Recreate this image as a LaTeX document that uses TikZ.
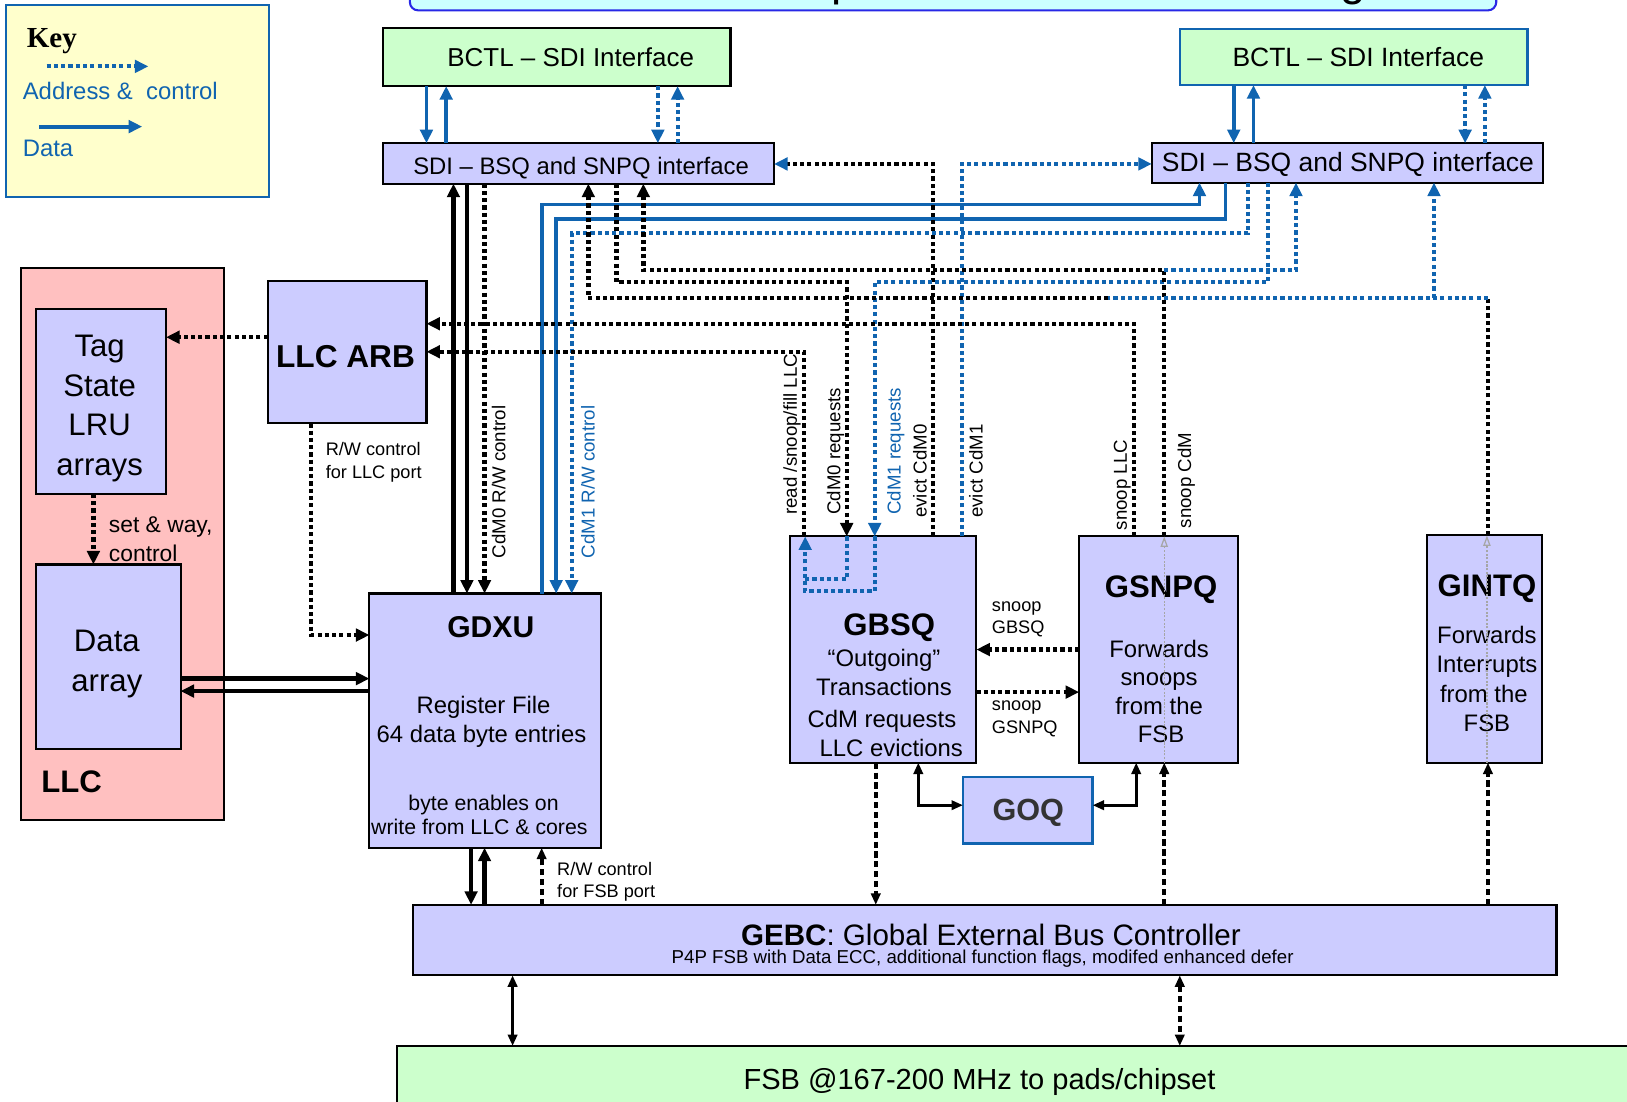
\documentclass[tikz,border=0pt]{standalone}
\usepackage{fontspec}
\setmainfont{Liberation Sans}
\newfontfamily\keyfont{Liberation Serif}
\usetikzlibrary{arrows.meta}
\definecolor{myblue}{RGB}{16,100,176}
\definecolor{lav}{RGB}{204,204,255}
\definecolor{mint}{RGB}{204,255,204}
\definecolor{pinkbg}{RGB}{255,192,192}
\definecolor{keyyel}{RGB}{255,255,204}
\definecolor{titlebg}{RGB}{204,255,255}
\definecolor{titlebd}{RGB}{40,40,230}
\newcommand\fsz[2]{\fontsize{#1}{#2}\selectfont}
\begin{document}
\begin{tikzpicture}[x=1pt,y=-1pt,
  box/.style={draw=black,line width=2pt,inner sep=0pt,outer sep=0pt,anchor=north west},
  txt/.style={inner sep=0pt,outer sep=0pt},
  ctl/.style={line width=4.2pt,dash pattern=on 4pt off 3pt},
  bctl/.style={line width=3.8pt,dash pattern=on 4pt off 3pt,myblue},
  ctlb/.style={line width=3.6pt,dash pattern=on 6pt off 3.5pt},
  dat/.style={line width=4.2pt},
  bdat/.style={line width=3.6pt,myblue},
  thn/.style={line width=2.6pt},
  tip/.style={-{Triangle[length=13pt,width=12pt]}},
  tipS/.style={-{Triangle[length=11pt,width=9pt]}},
  tipB/.style={{Triangle[length=11pt,width=9pt]}-{Triangle[length=11pt,width=9pt]}},
  pass/.style={draw=black!35,line width=1.2pt,dash pattern=on 2pt off 1.5pt,-{Triangle[open,length=10pt,width=7pt]}},
  rot/.style={txt,rotate=90,anchor=base west,font=\fsz{18}{18}},
  lbl/.style={txt,anchor=base west,font=\fsz{17.5}{17.5}},
]
\useasboundingbox (0,0) rectangle (1568,1062);
\clip (0,0) rectangle (1568,1062);

% ---------- title (cut off) ----------
\node[box,draw=titlebd,fill=titlebg,rounded corners=8pt,minimum width=1047pt,minimum height=50pt] (title) at (395,-40) {};
\node[txt,anchor=base west,font=\fsz{44}{44}] (titlep) at (801,-4) {p};
\node[txt,anchor=base,font=\fsz{44}{44}] (titleg) at (1304,-4) {g};

% ---------- key ----------
\node[box,draw=myblue,fill=keyyel,minimum width=253pt,minimum height=185pt] (key) at (6,5) {};
\node[txt,anchor=base,font=\keyfont\fsz{28}{28}\bfseries] (keyt) at (50,46) {Key};
\coordinate (ka1) at (45,64); \coordinate (ka2) at (143,64);
\draw[bctl,tip] (ka1) -- (ka2);
\node[txt,anchor=base west,font=\fsz{23}{23},text=myblue] (kat) at (22,96) {Address \& \ control};
\coordinate (kd1) at (38,122); \coordinate (kd2) at (137,122);
\draw[bdat,line width=4pt,tip] (kd1) -- (kd2);
\node[txt,anchor=base west,font=\fsz{23}{23},text=myblue] (kdt) at (22,151) {Data};

% ---------- BCTL / SDI ----------
\node[box,fill=mint,minimum width=335pt,minimum height=56pt] (bctlL) at (369,27) {};
\node[txt,anchor=base,font=\fsz{25}{25}] (bctlLt) at (550,64) {BCTL – SDI Interface};
\node[box,draw=myblue,line width=2.5pt,fill=mint,minimum width=335pt,minimum height=54pt] (bctlR) at (1137,28) {};
\node[txt,anchor=base,font=\fsz{25.5}{25.5}] (bctlRt) at (1309,64) {BCTL – SDI Interface};
\node[box,fill=lav,minimum width=377pt,minimum height=39pt] (sdiL) at (369,138) {};
\node[txt,anchor=base,font=\fsz{23}{23}] (sdiLt) at (560,168) {SDI – BSQ and SNPQ interface};
\node[box,fill=lav,minimum width=377pt,minimum height=38pt] (sdiR) at (1110,138) {};
\node[txt,anchor=base,font=\fsz{25.5}{25.5}] (sdiRt) at (1299,165) {SDI – BSQ and SNPQ interface};

% ---------- LLC ----------
\node[box,fill=pinkbg,minimum width=196pt,minimum height=532pt] (llc) at (20,258) {};
\node[box,fill=lav,minimum width=125pt,minimum height=178pt] (tag) at (35,298) {};
\node[txt,anchor=base,font=\fsz{30}{30}] (tag1) at (96,344) {Tag};
\node[txt,anchor=base,font=\fsz{30}{30}] (tag2) at (96,382) {State};
\node[txt,anchor=base,font=\fsz{30}{30}] (tag3) at (96,420) {LRU};
\node[txt,anchor=base,font=\fsz{30}{30}] (tag4) at (96,458) {arrays};
\node[box,fill=lav,minimum width=139pt,minimum height=178pt] (data) at (35,544) {};
\node[txt,anchor=base,font=\fsz{30}{30}] (data1) at (103,628) {Data};
\node[txt,anchor=base,font=\fsz{30}{30}] (data2) at (103,666) {array};
\node[txt,anchor=base,font=\fsz{30}{30}\bfseries] (llct) at (69,764) {LLC};

% ---------- LLC ARB ----------
\node[box,fill=lav,minimum width=153pt,minimum height=137pt] (llcarb) at (258,271) {};
\node[txt,anchor=base,font=\fsz{30.5}{30.5}\bfseries] (llcarbt) at (333,354) {LLC ARB};

% ---------- GDXU ----------
\node[box,fill=lav,minimum width=223pt,minimum height=245pt] (gdxu) at (356,572) {};
\node[txt,anchor=base,font=\fsz{29}{29}\bfseries] (gdxut) at (473,614) {GDXU};
\node[txt,anchor=base,font=\fsz{23}{23}] (gdxu1) at (466,688) {Register File};
\node[txt,anchor=base,font=\fsz{23}{23}] (gdxu2) at (464,716) {64 data byte entries};
\node[txt,anchor=base,font=\fsz{20.5}{20.5}] (gdxu3) at (466,781) {byte enables on};
\node[txt,anchor=base,font=\fsz{20.5}{20.5}] (gdxu4) at (462,804) {write from LLC \& cores};

% ---------- GBSQ ----------
\node[box,fill=lav,minimum width=180pt,minimum height=218pt] (gbsq) at (761,517) {};
\node[txt,anchor=base,font=\fsz{30}{30}\bfseries] (gbsqt) at (857,612) {GBSQ};
\node[txt,anchor=base,font=\fsz{23}{23}] (gbsq1) at (852,642) {“Outgoing”};
\node[txt,anchor=base,font=\fsz{23}{23}] (gbsq2) at (852,670) {Transactions};
\node[txt,anchor=base,font=\fsz{23}{23}] (gbsq3) at (850,701) {CdM requests};
\node[txt,anchor=base,font=\fsz{23}{23}] (gbsq4) at (859,729) {LLC evictions};

% ---------- GSNPQ ----------
\node[box,fill=lav,minimum width=153pt,minimum height=218pt] (gsnpq) at (1040,517) {};
\node[txt,anchor=base,font=\fsz{30}{30}\bfseries] (gsnpqt) at (1119,576) {GSNPQ};
\node[txt,anchor=base,font=\fsz{23}{23}] (gsnpq1) at (1117,634) {Forwards};
\node[txt,anchor=base,font=\fsz{23}{23}] (gsnpq2) at (1117,661) {snoops};
\node[txt,anchor=base,font=\fsz{23}{23}] (gsnpq3) at (1117,689) {from the};
\node[txt,anchor=base,font=\fsz{23}{23}] (gsnpq4) at (1119,716) {FSB};

% ---------- GINTQ ----------
\node[box,fill=lav,minimum width=111pt,minimum height=219pt] (gintq) at (1375,516) {};
\node[txt,anchor=base,font=\fsz{30}{30}\bfseries] (gintqt) at (1433,575) {GINTQ};
\node[txt,anchor=base,font=\fsz{23}{23}] (gintq1) at (1433,620) {Forwards};
\node[txt,anchor=base,font=\fsz{23}{23}] (gintq2) at (1433,648) {Interrupts};
\node[txt,anchor=base,font=\fsz{23}{23}] (gintq3) at (1430,677) {from the};
\node[txt,anchor=base,font=\fsz{23}{23}] (gintq4) at (1433,705) {FSB};

% ---------- GOQ ----------
\node[box,draw=myblue,line width=2.5pt,fill=lav,minimum width=125pt,minimum height=64pt] (goq) at (928,749) {};
\node[txt,anchor=base,font=\fsz{29.5}{29.5}\bfseries,text=black!80] (goqt) at (991,791) {GOQ};

% ---------- GEBC / FSB ----------
\node[box,fill=lav,minimum width=1102pt,minimum height=68pt] (gebc) at (398,872) {};
\node[txt,anchor=base,font=\fsz{28.5}{28.5}] (gebct) at (955,911) {\textbf{GEBC}: Global External Bus Controller};
\node[txt,anchor=base,font=\fsz{18}{18}] (gebcs) at (947,929) {P4P FSB with Data ECC, additional function flags, modifed enhanced defer};
\node[box,fill=mint,minimum width=1200pt,minimum height=80pt] (fsb) at (383,1008) {};
\node[txt,anchor=base,font=\fsz{28}{28}] (fsbt) at (944,1050) {FSB @167-200 MHz to pads/chipset};

% ---------- connectors: BCTL <-> SDI ----------
\draw[bdat,tip] (411,0 |- bctlL.south) -- (411,0 |- sdiL.north);
\draw[bdat,tip] (430,0 |- sdiL.north) -- (430,0 |- bctlL.south);
\draw[bctl,tip] (634,0 |- bctlL.south) -- (634,0 |- sdiL.north);
\draw[bctl,tip] (653,0 |- sdiL.north) -- (653,0 |- bctlL.south);
\draw[bdat,tip] (1189,0 |- bctlR.south) -- (1189,0 |- sdiR.north);
\draw[bdat,tip] (1208,0 |- sdiR.north) -- (1208,0 |- bctlR.south);
\draw[bctl,tip] (1412,0 |- bctlR.south) -- (1412,0 |- sdiR.north);
\draw[bctl,tip] (1431,0 |- sdiR.north) -- (1431,0 |- bctlR.south);

% ---------- SDI <-> GDXU ----------
\draw[dat,tip] (437,0 |- gdxu.north) -- (437,0 |- sdiL.south);
\draw[dat,tip] (450,0 |- sdiL.south) -- (450,0 |- gdxu.north);
\draw[ctl,tip] (467,0 |- sdiL.south) -- (467,0 |- gdxu.north);
\draw[bdat,tip] (522,0 |- gdxu.north) -- (522,197) -- (1156,197) -- (1156,0 |- sdiR.south);
\draw[bdat,tip] (1181,0 |- sdiR.south) -- (1181,211) -- (536,211) -- (536,0 |- gdxu.north);
\draw[bctl,tip] (1203,0 |- sdiR.south) -- (1203,225) -- (551,225) -- (551,0 |- gdxu.north);

% ---------- evictions ----------
\draw[ctl,-{Triangle[length=13pt,width=12pt,color=myblue]}] (899,0 |- gbsq.north) -- (899,158) -- (sdiL.east |- 0,158);
\draw[bctl,tip] (927,0 |- gbsq.north) -- (927,158) -- (sdiR.west |- 0,158);

% ---------- requests ----------
\draw[ctl,tip] (594,0 |- sdiL.south) -- (594,272) -- (816,272) -- (816,0 |- gbsq.north);
\draw[bctl,tip] (1222,0 |- sdiR.south) -- (1222,272) -- (843,272) -- (843,0 |- gbsq.north);
\coordinate (loopj) at (776,558);
\draw[bctl] (816,0 |- gbsq.north) -- (816,558) -- (loopj);
\draw[bctl,tip] (843,0 |- gbsq.north) -- (843,570) -- (776,570) -- (776,0 |- gbsq.north);
\draw[ctl,tip] (775,0 |- gbsq.north) -- (775,339) -- (llcarb.east |- 0,339);

% ---------- snoops ----------
\draw[ctl,tip] (1093,0 |- gsnpq.north) -- (1093,312) -- (llcarb.east |- 0,312);
\coordinate (jcdm) at (1122,260);
\draw[ctl,tip] (1122,0 |- gsnpq.north) -- (jcdm) -- (620,260) -- (620,0 |- sdiL.south);
\draw[bctl,tip] (jcdm) -- (1249,260) -- (1249,0 |- sdiR.south);

% ---------- interrupts ----------
\coordinate (jint) at (1434,287);
\coordinate (jintb) at (1068,287);
\coordinate (jintr) at (1382,287);
\draw[ctl] (1434,0 |- gintq.north) -- (jint);
\draw[bctl] (jint) -- (jintb);
\draw[ctl,tip] (jintb) -- (567,287) -- (567,0 |- sdiL.south);
\draw[bctl,tip] (jintr) -- (1382,0 |- sdiR.south);

% ---------- LLC side ----------
\draw[ctl,tip] (llcarb.west |- 0,325) -- (tag.east |- 0,325);
\draw[ctl,tip] (90,0 |- tag.south) -- (90,0 |- data.north);
\draw[ctl,tip] (300,0 |- llcarb.south) -- (300,612) -- (gdxu.west |- 0,612);
\draw[dat,tip] (data.east |- 0,654) -- (gdxu.west |- 0,654);
\draw[dat,tip] (gdxu.west |- 0,666) -- (data.east |- 0,666);

% ---------- lower connectors ----------
\draw[dat,tip] (454,0 |- gdxu.south) -- (454,0 |- gebc.north);
\draw[dat,tip] (467,0 |- gebc.north) -- (467,0 |- gdxu.south);
\draw[ctlb,tipS] (522,0 |- gebc.north) -- (522,0 |- gdxu.south);
\draw[ctlb,tipS] (844,0 |- gbsq.south) -- (844,0 |- gebc.north);
\draw[thn,tipB] (885,0 |- gbsq.south) -- (885,776) -- (goq.west |- 0,776);
\draw[thn,tipB] (1095,0 |- gsnpq.south) -- (1095,776) -- (goq.east |- 0,776);
\draw[ctlb,tipS] (1122,0 |- gebc.north) -- (1122,0 |- gsnpq.south);
\draw[ctlb,tipS] (1434,0 |- gebc.north) -- (1434,0 |- gintq.south);
\draw[ctl,tip] (gsnpq.west |- 0,626) -- (gbsq.east |- 0,626);
\draw[ctl,tip] (gbsq.east |- 0,667) -- (gsnpq.west |- 0,667);
\draw[line width=3.2pt,tipB] (494,0 |- gebc.south) -- (494,0 |- fsb.north);
\draw[ctlb,tipB] (1137,0 |- gebc.south) -- (1137,0 |- fsb.north);
\draw[pass] (1122,0 |- gsnpq.south) -- (1122,0 |- gsnpq.north);
\draw[pass] (1433,0 |- gintq.south) -- (1433,0 |- gintq.north);

% ---------- labels ----------
\node[rot] (l1) at (487,538) {CdM0 R/W control};
\node[rot,text=myblue] (l2) at (573,538) {CdM1 R/W control};
\node[rot] (l3) at (768,496) {read /snoop/fill LLC};
\node[rot] (l4) at (810,496) {CdM0 requests};
\node[rot,text=myblue] (l5) at (868,496) {CdM1 requests};
\node[rot] (l6) at (893,499) {evict CdM0};
\node[rot] (l7) at (947,499) {evict CdM1};
\node[rot] (l8) at (1086,511) {snoop LLC};
\node[rot] (l9) at (1148,509) {snoop CdM};
\node[lbl] (rw1) at (314,439) {R/W control};
\node[lbl] (rw2) at (314,461) {for LLC port};
\node[txt,anchor=base west,font=\fsz{22}{22}] (sw1) at (105,513) {set \& way,};
\node[txt,anchor=base west,font=\fsz{22}{22}] (sw2) at (105,541) {control};
\node[lbl] (rf1) at (537,844) {R/W control};
\node[lbl] (rf2) at (537,865) {for FSB port};
\node[lbl] (sg1) at (956,589) {snoop};
\node[lbl] (sg2) at (956,611) {GBSQ};
\node[lbl] (sn1) at (956,685) {snoop};
\node[lbl] (sn2) at (956,707) {GSNPQ};
\end{tikzpicture}
\end{document}
